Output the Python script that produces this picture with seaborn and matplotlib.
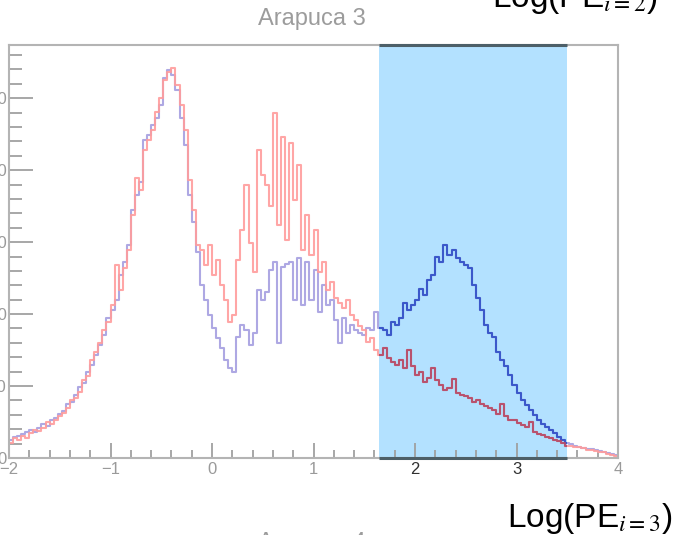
import numpy as np
import pandas as pd
import matplotlib
matplotlib.use("Agg")
import matplotlib.pyplot as plt
import matplotlib.patches as mpatches
from matplotlib.ticker import MultipleLocator
import seaborn as sns

# Histogram binning on the Log(PE) axis
x_min, x_max, n_bins = -2.0, 4.0, 150

# Counts per bin, "all events" (purple/blue) and "selected" (red)
blue_counts = [
    25, 29, 31, 33, 36, 39, 36, 42, 47, 44,
    53, 56, 61, 65, 75, 78, 88, 99, 104, 119,
    129, 143, 157, 171, 194, 206, 219, 254, 272, 296,
    344, 365, 383, 442, 449, 463, 472, 490, 528, 539,
    532, 511, 472, 435, 365, 328, 286, 240, 219, 199,
    181, 167, 153, 136, 125, 119, 168, 185, 178, 157,
    174, 233, 219, 231, 261, 272, 160, 265, 269, 272,
    219, 278, 213, 272, 219, 261, 203, 240, 213, 219,
    192, 160, 194, 174, 185, 178, 174, 171, 181, 178,
    203, 181, 178, 171, 189, 185, 194, 215, 206, 212,
    219, 235, 226, 248, 254, 280, 272, 296, 282, 289,
    278, 272, 268, 264, 240, 222, 206, 185, 174, 168,
    147, 136, 128, 115, 101, 90, 81, 74, 67, 60,
    53, 47, 43, 39, 35, 29, 25, 21, 19, 17,
    15, 14, 13, 13, 11, 10, 8, 7, 6, 4,
]
red_counts = [
    21, 28, 25, 31, 28, 35, 39, 38, 42, 50,
    47, 53, 58, 63, 69, 81, 83, 92, 108, 114,
    136, 147, 160, 178, 189, 213, 268, 233, 264, 289,
    338, 389, 372, 428, 442, 456, 481, 500, 525, 536,
    542, 518, 490, 456, 386, 344, 296, 289, 268, 296,
    254, 275, 240, 219, 189, 199, 275, 317, 379, 299,
    258, 428, 393, 380, 350, 479, 324, 446, 303, 438,
    358, 407, 289, 338, 282, 317, 258, 272, 233, 244,
    222, 215, 208, 219, 199, 192, 183, 178, 161, 167,
    150, 143, 153, 139, 133, 129, 136, 125, 150, 128,
    115, 119, 106, 111, 125, 108, 101, 94, 97, 110,
    90, 88, 86, 83, 78, 81, 75, 72, 69, 67,
    61, 75, 58, 53, 53, 49, 46, 43, 50, 36,
    33, 32, 29, 28, 25, 24, 21, 17, 17, 15,
    15, 14, 11, 11, 10, 8, 8, 6, 4, 3,
]

# Selection window on Log(PE)
window = (1.65, 3.5)

x_ticks = [-2, -1, 0, 1, 2, 3, 4]
y_ticks = [0, 100, 200, 300, 400, 500]
y_top = 574

sns.set_style("white")
plt.rcParams["font.family"] = ["Liberation Sans", "DejaVu Sans"]
plt.rcParams["mathtext.fontset"] = "stix"

bin_width = (x_max - x_min) / n_bins
centers = x_min + bin_width * (np.arange(n_bins) + 0.5)

W, H = 678, 535
fig = plt.figure(figsize=(W / 100, H / 100), dpi=100)
ax = fig.add_axes([9 / W, 77 / H, 609 / W, 413 / H])

# shaded selection window with darker top/bottom edges
ax.axvspan(*window, color="#b3e1ff", zorder=0, lw=0)
ax.hlines([0, y_top], *window, colors="#4d5f68", lw=2.2, zorder=3, clip_on=False)

series = [
    (blue_counts, "#a59fe0", "#3050c8"),
    (red_counts, "#ff9c9c", "#b24a68"),
]
clip_rect = mpatches.Rectangle((window[0], 0), window[1] - window[0], y_top,
                               transform=ax.transData, visible=False)
ax.add_patch(clip_rect)
for counts, light, dark in series:
    df = pd.DataFrame({"logpe": centers, "count": counts})
    for col, clipped in ((light, False), (dark, True)):
        n_before = len(ax.lines)
        sns.histplot(data=df, x="logpe", weights="count", binwidth=bin_width,
                     binrange=(x_min, x_max), element="step", fill=False,
                     color=col, lw=1.5, ax=ax)
        for ln in ax.lines[n_before:]:
            ln.set_alpha(0.9)
            if clipped:
                ln.set_clip_path(clip_rect)
                ln.set_zorder(2.2)
            else:
                ln.set_zorder(2.1)

ax.set_xlim(x_min, x_max)
ax.set_ylim(0, y_top)
ax.set_xlabel("")
ax.set_ylabel("")
ax.set_xticks(x_ticks)
ax.set_yticks(y_ticks)
ax.xaxis.set_minor_locator(MultipleLocator(0.2))
ax.yaxis.set_minor_locator(MultipleLocator(20))
ax.tick_params(which="both", direction="in", colors="#a0a0a0",
               labelcolor="#9a9a9a", labelsize=12, width=1.3,
               bottom=True, left=True, top=False, right=False)
ax.tick_params(axis="x", which="major", length=11, pad=3)
ax.tick_params(axis="x", which="minor", length=6)
ax.tick_params(axis="y", which="major", length=17, pad=1.5)
ax.tick_params(axis="y", which="minor", length=9)
for lab, val in zip(ax.get_xticklabels(), x_ticks):
    if window[0] < val < window[1]:
        lab.set_color("#303030")
for s in ax.spines.values():
    s.set_color("#b4b4b4")
    s.set_linewidth(1.5)

fig.text(312 / W, 1 - 25 / H, "Arapuca 3", ha="center", va="baseline",
         color="#9c9c9c", fontsize=17)
fig.text(312 / W, 1 - 549 / H, "Arapuca 4", ha="center", va="baseline",
         color="#9c9c9c", fontsize=17)

fig.text(507 / W, 1 - 527 / H, r"Log(PE$_{\mathit{i=3}}$)", ha="left",
         va="baseline", fontsize=24, color="black")
fig.text(492 / W, 1 - 7 / H, r"Log(PE$_{\mathit{i=2}}$)", ha="left",
         va="baseline", fontsize=24, color="black")

fig.savefig("out.png", dpi=100)
